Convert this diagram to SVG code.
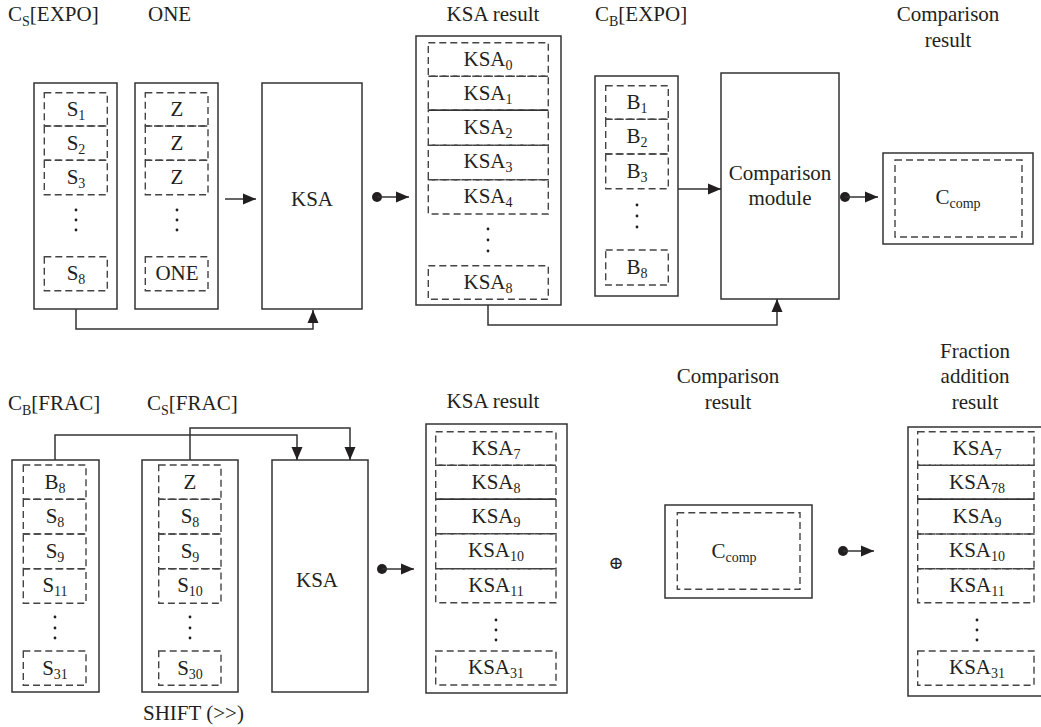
<svg xmlns="http://www.w3.org/2000/svg" width="1041" height="727" viewBox="0 0 1041 727">
  <defs>
    <style>
      text { font-family: "Liberation Serif", "Times New Roman", serif; font-size: 21px; fill: #231f20; }
      .m { text-anchor: middle; }
      .sub { font-size: 14px; }
      .box { fill: #fff; stroke: #333; stroke-width: 1.5; }
      .cell { fill: none; stroke: #444; stroke-width: 1.4; stroke-dasharray: 7 4; }
      .solid { fill: none; stroke: #333; stroke-width: 1.4; }
      .wire { fill: none; stroke: #333; stroke-width: 1.5; }
      .dot { fill: #231f20; }
      .vd { fill: #231f20; }
    </style>
    <marker id="ah" markerUnits="userSpaceOnUse" markerWidth="13" markerHeight="13" refX="13" refY="6.5" orient="auto">
      <path d="M0,1 L13,6.5 L0,12 z" fill="#231f20"/>
    </marker>
  </defs>

  <!-- top row: exponent comparison -->
  <text x="8" y="21">C<tspan class="sub" dy="5">S</tspan><tspan dy="-5">[EXPO]</tspan></text>
  <text x="148" y="21">ONE</text>
  <text x="493" y="21" class="m">KSA result</text>
  <text x="595" y="21">C<tspan class="sub" dy="5">B</tspan><tspan dy="-5">[EXPO]</tspan></text>
  <text x="948" y="21" class="m">Comparison</text>
  <text x="948" y="47" class="m">result</text>

  <g id="cs-expo">
    <rect class="box" x="34" y="83" width="83" height="226"/>
    <rect class="cell" x="44.3" y="92.7" width="63" height="33.3"/>
    <rect class="cell" x="44.3" y="126" width="63" height="34.3"/>
    <rect class="cell" x="44.3" y="160.3" width="63" height="34.4"/>
    <rect class="cell" x="44.3" y="256.7" width="63" height="34"/>
    <text x="76" y="116" class="m">S<tspan class="sub" dy="4">1</tspan></text>
    <text x="76" y="150" class="m">S<tspan class="sub" dy="4">2</tspan></text>
    <text x="76" y="184" class="m">S<tspan class="sub" dy="4">3</tspan></text>
    <text x="76" y="280" class="m">S<tspan class="sub" dy="4">8</tspan></text>
    <circle class="vd" cx="76" cy="210" r="1.4"/>
    <circle class="vd" cx="76" cy="220" r="1.4"/>
    <circle class="vd" cx="76" cy="230" r="1.4"/>
  </g>

  <g id="one">
    <rect class="box" x="135" y="83" width="83" height="226"/>
    <rect class="cell" x="145.3" y="92.7" width="62.7" height="33.3"/>
    <rect class="cell" x="145.3" y="126" width="62.7" height="34.3"/>
    <rect class="cell" x="145.3" y="160.3" width="62.7" height="34.4"/>
    <rect class="cell" x="145.3" y="256.7" width="62.7" height="34"/>
    <text x="177" y="116" class="m">Z</text>
    <text x="177" y="150" class="m">Z</text>
    <text x="177" y="184" class="m">Z</text>
    <text x="177" y="280" class="m">ONE</text>
    <circle class="vd" cx="177" cy="210" r="1.4"/>
    <circle class="vd" cx="177" cy="220" r="1.4"/>
    <circle class="vd" cx="177" cy="230" r="1.4"/>
  </g>

  <g id="ksa-top">
    <rect class="box" x="262" y="83" width="100" height="226"/>
    <text x="312" y="206" class="m">KSA</text>
  </g>

  <g id="ksa-result-top">
    <rect class="box" x="416" y="36" width="145" height="269"/>
    <rect class="cell" x="428.3" y="42.7" width="120" height="33.6"/>
    <rect class="cell" x="428.3" y="76.3" width="120" height="34"/>
    <rect class="cell" x="428.3" y="110.3" width="120" height="35"/>
    <rect class="cell" x="428.3" y="145.3" width="120" height="34.4"/>
    <rect class="cell" x="428.3" y="179.7" width="120" height="34.3"/>
    <rect class="cell" x="428.3" y="265.7" width="120" height="33.6"/>
    <line class="solid" x1="428.3" y1="110.3" x2="548.3" y2="110.3"/>
    <text x="488" y="66" class="m">KSA<tspan class="sub" dy="4">0</tspan></text>
    <text x="488" y="100" class="m">KSA<tspan class="sub" dy="4">1</tspan></text>
    <text x="488" y="134" class="m">KSA<tspan class="sub" dy="4">2</tspan></text>
    <text x="488" y="168" class="m">KSA<tspan class="sub" dy="4">3</tspan></text>
    <text x="488" y="203" class="m">KSA<tspan class="sub" dy="4">4</tspan></text>
    <text x="488" y="289" class="m">KSA<tspan class="sub" dy="4">8</tspan></text>
    <circle class="vd" cx="488" cy="229" r="1.4"/>
    <circle class="vd" cx="488" cy="240" r="1.4"/>
    <circle class="vd" cx="488" cy="251" r="1.4"/>
  </g>

  <g id="cb-expo">
    <rect class="box" x="595" y="76" width="83" height="220"/>
    <rect class="cell" x="605.7" y="85.7" width="62.6" height="33.6"/>
    <rect class="cell" x="605.7" y="119.3" width="62.6" height="34.7"/>
    <rect class="cell" x="605.7" y="154" width="62.6" height="34.7"/>
    <rect class="cell" x="605.7" y="250" width="62.6" height="35"/>
    <text x="637" y="109" class="m">B<tspan class="sub" dy="4">1</tspan></text>
    <text x="637" y="143" class="m">B<tspan class="sub" dy="4">2</tspan></text>
    <text x="637" y="178" class="m">B<tspan class="sub" dy="4">3</tspan></text>
    <text x="637" y="274" class="m">B<tspan class="sub" dy="4">8</tspan></text>
    <circle class="vd" cx="637" cy="205" r="1.4"/>
    <circle class="vd" cx="637" cy="216" r="1.4"/>
    <circle class="vd" cx="637" cy="227" r="1.4"/>
  </g>

  <g id="comparison-module">
    <rect class="box" x="721" y="73" width="118" height="226"/>
    <text x="780" y="180" class="m">Comparison</text>
    <text x="780" y="205" class="m">module</text>
  </g>

  <g id="ccomp-top">
    <rect class="box" x="883" y="153" width="150" height="91"/>
    <rect class="cell" x="895" y="160" width="127" height="77"/>
    <text x="958" y="204" class="m">C<tspan class="sub" dy="4">comp</tspan></text>
  </g>

  <!-- bottom row: fraction addition -->
  <text x="8" y="410">C<tspan class="sub" dy="5">B</tspan><tspan dy="-5">[FRAC]</tspan></text>
  <text x="147" y="410">C<tspan class="sub" dy="5">S</tspan><tspan dy="-5">[FRAC]</tspan></text>
  <text x="143" y="720">SHIFT (&gt;&gt;)</text>
  <text x="493" y="408" class="m">KSA result</text>
  <text x="728" y="383" class="m">Comparison</text>
  <text x="728" y="409" class="m">result</text>
  <text x="975" y="358" class="m">Fraction</text>
  <text x="975" y="383" class="m">addition</text>
  <text x="975" y="409" class="m">result</text>
  <text x="616" y="569" class="m" style="font-family:'DejaVu Serif','DejaVu Sans',serif;font-size:18px">⊕</text>

  <g id="cb-frac">
    <rect class="box" x="12" y="460" width="87" height="232"/>
    <rect class="cell" x="23.3" y="465" width="62.7" height="34.3"/>
    <rect class="cell" x="23.3" y="499.3" width="62.7" height="34.7"/>
    <rect class="cell" x="23.3" y="534" width="62.7" height="34.7"/>
    <rect class="cell" x="23.3" y="568.7" width="62.7" height="34.6"/>
    <rect class="cell" x="23.3" y="651" width="62.7" height="34.3"/>
    <text x="55" y="489" class="m">B<tspan class="sub" dy="4">8</tspan></text>
    <text x="55" y="523" class="m">S<tspan class="sub" dy="4">8</tspan></text>
    <text x="55" y="558" class="m">S<tspan class="sub" dy="4">9</tspan></text>
    <text x="55" y="592" class="m">S<tspan class="sub" dy="4">11</tspan></text>
    <text x="55" y="675" class="m">S<tspan class="sub" dy="4">31</tspan></text>
    <circle class="vd" cx="55" cy="617" r="1.4"/>
    <circle class="vd" cx="55" cy="628" r="1.4"/>
    <circle class="vd" cx="55" cy="638" r="1.4"/>
  </g>

  <g id="cs-frac">
    <rect class="box" x="142" y="460" width="96" height="232"/>
    <rect class="cell" x="158.7" y="465" width="62.3" height="34.3"/>
    <rect class="cell" x="158.7" y="499.3" width="62.3" height="34.7"/>
    <rect class="cell" x="158.7" y="534" width="62.3" height="34.7"/>
    <rect class="cell" x="158.7" y="568.7" width="62.3" height="34.6"/>
    <rect class="cell" x="158.7" y="651" width="62.3" height="34.3"/>
    <text x="190" y="489" class="m">Z</text>
    <text x="190" y="523" class="m">S<tspan class="sub" dy="4">8</tspan></text>
    <text x="190" y="558" class="m">S<tspan class="sub" dy="4">9</tspan></text>
    <text x="190" y="592" class="m">S<tspan class="sub" dy="4">10</tspan></text>
    <text x="190" y="675" class="m">S<tspan class="sub" dy="4">30</tspan></text>
    <circle class="vd" cx="190" cy="617" r="1.4"/>
    <circle class="vd" cx="190" cy="628" r="1.4"/>
    <circle class="vd" cx="190" cy="638" r="1.4"/>
  </g>

  <g id="ksa-bottom">
    <rect class="box" x="272" y="460" width="96" height="232"/>
    <text x="317" y="587" class="m">KSA</text>
  </g>

  <g id="ksa-result-bottom">
    <rect class="box" x="426" y="424" width="141" height="269"/>
    <rect class="cell" x="435.7" y="431.7" width="120.3" height="33.6"/>
    <rect class="cell" x="435.7" y="465.3" width="120.3" height="34"/>
    <rect class="cell" x="435.7" y="499.3" width="120.3" height="34.4"/>
    <rect class="cell" x="435.7" y="533.7" width="120.3" height="35"/>
    <rect class="cell" x="435.7" y="568.7" width="120.3" height="34"/>
    <rect class="cell" x="435.7" y="651" width="120.3" height="34"/>
    <line class="solid" x1="435.7" y1="499.3" x2="556" y2="499.3"/>
    <text x="496" y="455" class="m">KSA<tspan class="sub" dy="4">7</tspan></text>
    <text x="496" y="489" class="m">KSA<tspan class="sub" dy="4">8</tspan></text>
    <text x="496" y="523" class="m">KSA<tspan class="sub" dy="4">9</tspan></text>
    <text x="496" y="557" class="m">KSA<tspan class="sub" dy="4">10</tspan></text>
    <text x="496" y="592" class="m">KSA<tspan class="sub" dy="4">11</tspan></text>
    <text x="496" y="674" class="m">KSA<tspan class="sub" dy="4">31</tspan></text>
    <circle class="vd" cx="496" cy="620" r="1.4"/>
    <circle class="vd" cx="496" cy="630" r="1.4"/>
    <circle class="vd" cx="496" cy="640" r="1.4"/>
  </g>

  <g id="ccomp-bottom">
    <rect class="box" x="665" y="505" width="147" height="93"/>
    <rect class="cell" x="677.3" y="512.7" width="122.7" height="76.6"/>
    <text x="734" y="558" class="m">C<tspan class="sub" dy="4">comp</tspan></text>
  </g>

  <g id="fraction-result">
    <rect class="box" x="908" y="427" width="140" height="269"/>
    <rect class="cell" x="917.7" y="431.7" width="116.3" height="33.6"/>
    <rect class="cell" x="917.7" y="465.3" width="116.3" height="34"/>
    <rect class="cell" x="917.7" y="499.3" width="116.3" height="34.7"/>
    <rect class="cell" x="917.7" y="534" width="116.3" height="34.7"/>
    <rect class="cell" x="917.7" y="568.7" width="116.3" height="34"/>
    <rect class="cell" x="917.7" y="651" width="116.3" height="34.3"/>
    <line class="solid" x1="917.7" y1="499.3" x2="1034" y2="499.3"/>
    <text x="977" y="455" class="m">KSA<tspan class="sub" dy="4">7</tspan></text>
    <text x="977" y="489" class="m">KSA<tspan class="sub" dy="4">78</tspan></text>
    <text x="977" y="523" class="m">KSA<tspan class="sub" dy="4">9</tspan></text>
    <text x="977" y="557" class="m">KSA<tspan class="sub" dy="4">10</tspan></text>
    <text x="977" y="592" class="m">KSA<tspan class="sub" dy="4">11</tspan></text>
    <text x="977" y="674" class="m">KSA<tspan class="sub" dy="4">31</tspan></text>
    <circle class="vd" cx="977" cy="620" r="1.4"/>
    <circle class="vd" cx="977" cy="630" r="1.4"/>
    <circle class="vd" cx="977" cy="640" r="1.4"/>
  </g>

  <!-- connectors -->
  <g id="connectors">
    <line class="wire" x1="225" y1="199" x2="256" y2="199" marker-end="url(#ah)"/>
    <path class="wire" d="M76,309 V329 H313 V310" marker-end="url(#ah)"/>
    <circle class="dot" cx="377" cy="197" r="5"/>
    <line class="wire" x1="377" y1="197" x2="409" y2="197" marker-end="url(#ah)"/>
    <line class="wire" x1="678" y1="189" x2="721" y2="189" marker-end="url(#ah)"/>
    <path class="wire" d="M488,305 V325 H777 V299" marker-end="url(#ah)"/>
    <circle class="dot" cx="845" cy="197" r="5"/>
    <line class="wire" x1="845" y1="197" x2="878" y2="197" marker-end="url(#ah)"/>

    <path class="wire" d="M55,460 V435 H297 V460" marker-end="url(#ah)"/>
    <path class="wire" d="M190,460 V428 H350 V460" marker-end="url(#ah)"/>
    <circle class="dot" cx="382" cy="569" r="5"/>
    <line class="wire" x1="382" y1="569" x2="414" y2="569" marker-end="url(#ah)"/>
    <circle class="dot" cx="843" cy="551" r="5"/>
    <line class="wire" x1="843" y1="551" x2="874" y2="551" marker-end="url(#ah)"/>
  </g>
</svg>
